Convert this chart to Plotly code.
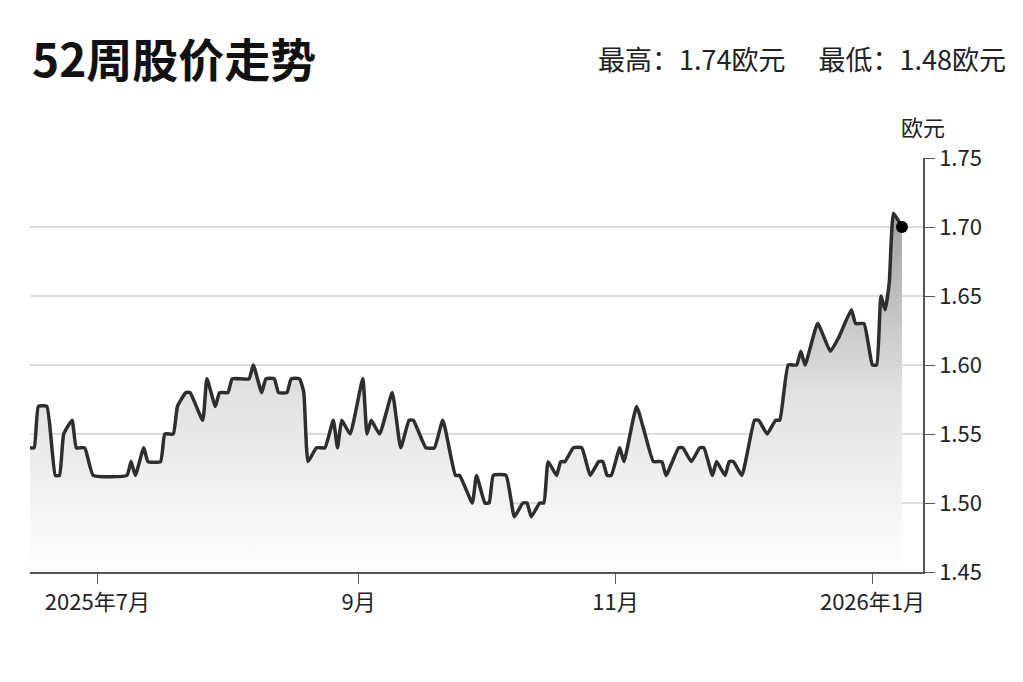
import plotly.graph_objects as go

dates = ["2025-06-15", "2025-06-16", "2025-06-17", "2025-06-19", "2025-06-21", "2025-06-22",
         "2025-06-23", "2025-06-25", "2025-06-26", "2025-06-28", "2025-06-30", "2025-07-08",
         "2025-07-09", "2025-07-10", "2025-07-12", "2025-07-13", "2025-07-16", "2025-07-17",
         "2025-07-19", "2025-07-20", "2025-07-22", "2025-07-23", "2025-07-26", "2025-07-27",
         "2025-07-29", "2025-07-30", "2025-08-01", "2025-08-02", "2025-08-06", "2025-08-07",
         "2025-08-09", "2025-08-10", "2025-08-12", "2025-08-13", "2025-08-15", "2025-08-16",
         "2025-08-18", "2025-08-19", "2025-08-20", "2025-08-22", "2025-08-24", "2025-08-26",
         "2025-08-27", "2025-08-28", "2025-08-30", "2025-09-02", "2025-09-03", "2025-09-04",
         "2025-09-06", "2025-09-09", "2025-09-11", "2025-09-13", "2025-09-14", "2025-09-17",
         "2025-09-19", "2025-09-21", "2025-09-24", "2025-09-25", "2025-09-28", "2025-09-29",
         "2025-10-01", "2025-10-02", "2025-10-03", "2025-10-06", "2025-10-08", "2025-10-10",
         "2025-10-11", "2025-10-12", "2025-10-14", "2025-10-15", "2025-10-16", "2025-10-18",
         "2025-10-19", "2025-10-20", "2025-10-22", "2025-10-24", "2025-10-26", "2025-10-28",
         "2025-10-29", "2025-10-30", "2025-10-31", "2025-11-02", "2025-11-03", "2025-11-06",
         "2025-11-08", "2025-11-10", "2025-11-12", "2025-11-13", "2025-11-16", "2025-11-17",
         "2025-11-19", "2025-11-21", "2025-11-22", "2025-11-24", "2025-11-25", "2025-11-27",
         "2025-11-28", "2025-11-29", "2025-12-01", "2025-12-04", "2025-12-05", "2025-12-07",
         "2025-12-09", "2025-12-10", "2025-12-12", "2025-12-14", "2025-12-15", "2025-12-16",
         "2025-12-19", "2025-12-22", "2025-12-24", "2025-12-27", "2025-12-28", "2025-12-30",
         "2026-01-01", "2026-01-02", "2026-01-03", "2026-01-04", "2026-01-05", "2026-01-06",
         "2026-01-08"]
prices = [1.54, 1.54, 1.57, 1.57, 1.52, 1.52,
          1.55, 1.56, 1.54, 1.54, 1.52, 1.52,
          1.53, 1.52, 1.54, 1.53, 1.53, 1.55,
          1.55, 1.57, 1.58, 1.58, 1.56, 1.59,
          1.57, 1.58, 1.58, 1.59, 1.59, 1.60,
          1.58, 1.59, 1.59, 1.58, 1.58, 1.59,
          1.59, 1.58, 1.53, 1.54, 1.54, 1.56,
          1.54, 1.56, 1.55, 1.59, 1.55, 1.56,
          1.55, 1.58, 1.54, 1.56, 1.56, 1.54,
          1.54, 1.56, 1.52, 1.52, 1.50, 1.52,
          1.50, 1.50, 1.52, 1.52, 1.49, 1.50,
          1.50, 1.49, 1.50, 1.50, 1.53, 1.52,
          1.53, 1.53, 1.54, 1.54, 1.52, 1.53,
          1.53, 1.52, 1.52, 1.54, 1.53, 1.57,
          1.55, 1.53, 1.53, 1.52, 1.54, 1.54,
          1.53, 1.54, 1.54, 1.52, 1.53, 1.52,
          1.53, 1.53, 1.52, 1.56, 1.56, 1.55,
          1.56, 1.56, 1.60, 1.60, 1.61, 1.60,
          1.63, 1.61, 1.62, 1.64, 1.63, 1.63,
          1.60, 1.60, 1.65, 1.64, 1.66, 1.71,
          1.70]

tick_vals = ["2025-07-01", "2025-09-01", "2025-11-01", "2026-01-01"]
tick_text = ["2025年7月", "9月", "11月", "2026年1月"]
y_ticks = [1.45, 1.50, 1.55, 1.60, 1.65, 1.70, 1.75]
y_floor = 1.45

font = "Noto Sans CJK SC"

fig = go.Figure()
# baseline so the gradient fill only spans the visible range
fig.add_trace(go.Scatter(
    x=dates, y=[y_floor] * len(dates), mode="lines",
    line=dict(width=0, color="rgba(0,0,0,0)"), hoverinfo="skip", showlegend=False,
))
fig.add_trace(go.Scatter(
    x=dates, y=prices, mode="lines",
    line=dict(color="#2e2e2e", width=3.5, shape="spline", smoothing=0.4),
    fill="tonexty",
    fillgradient=dict(type="vertical",
                      colorscale=[[0, "rgba(255,255,255,1)"], [0.5, "rgba(225,225,225,1)"],
                                  [1, "rgba(160,160,160,1)"]]),
    hoverinfo="x+y", showlegend=False,
))
fig.add_trace(go.Scatter(
    x=[dates[-1]], y=[prices[-1]], mode="markers",
    marker=dict(color="black", size=12), showlegend=False,
))

fig.update_layout(
    width=1023, height=682,
    margin=dict(l=22, r=108, t=150, b=118),
    paper_bgcolor="white", plot_bgcolor="white",
    font=dict(family=font, color="#222222"),
)
fig.update_xaxes(
    range=["2025-06-15", "2026-01-13"], automargin=False,
    tickvals=tick_vals, ticktext=tick_text,
    tickfont=dict(size=22, color="#222222"),
    showgrid=False, showline=True, linecolor="#555555", linewidth=1.5,
    ticks="outside", ticklen=10, tickcolor="#555555",
)
fig.update_yaxes(
    range=[1.45, 1.75], side="right", automargin=False,
    tickvals=y_ticks, tickformat=".2f",
    tickfont=dict(size=22, color="#222222"),
    showgrid=True, gridcolor="#dddddd", gridwidth=2,
    showline=True, linecolor="#555555", linewidth=1.5,
    ticks="outside", ticklen=10, tickcolor="#555555",
    zeroline=False,
)

fig.add_annotation(text="<b>52周股价走势</b>", xref="paper", yref="paper",
                   x=0.0, y=1.245, xanchor="left", yanchor="middle",
                   showarrow=False, font=dict(size=46, color="#111111", family=font))
fig.add_annotation(text="最高：1.74欧元　 最低：1.48欧元", xref="paper", yref="paper",
                   x=1.095, y=1.24, xanchor="right", yanchor="middle",
                   showarrow=False, font=dict(size=27, color="#222222", family=font))
fig.add_annotation(text="欧元", xref="paper", yref="paper",
                   x=1.0, y=1.035, xanchor="center", yanchor="bottom",
                   showarrow=False, font=dict(size=22, color="#222222", family=font))

fig.write_html("out.html")
